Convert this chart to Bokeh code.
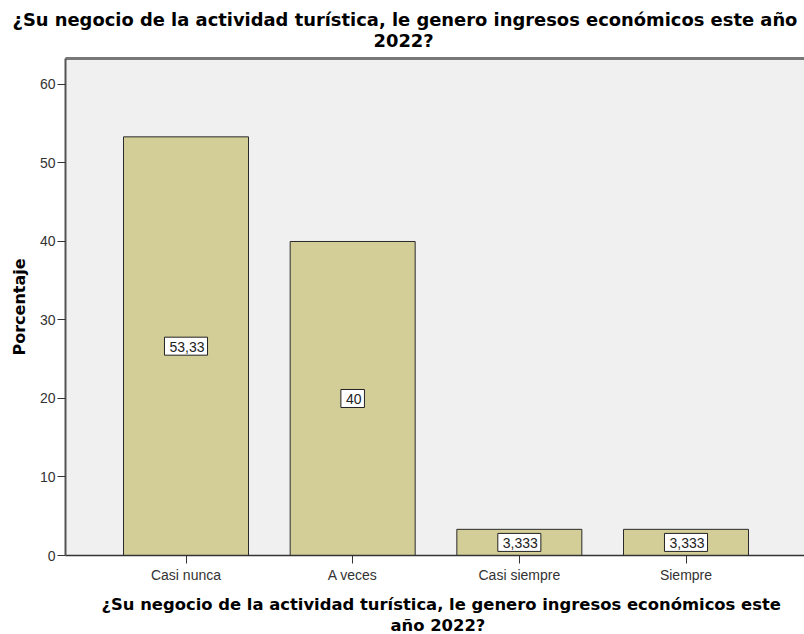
from bokeh.plotting import figure
from bokeh.models import (ColumnDataSource, Label, Range1d, FixedTicker, LinearAxis, Title)
from bokeh.embed import file_html
from bokeh.resources import INLINE

categories = ["Casi nunca", "A veces", "Casi siempre", "Siempre"]
values = [53.33, 40, 3.333, 3.333]
value_labels = ["53,33", "40", "3,333", "3,333"]
y_ticks = [0, 10, 20, 30, 40, 50, 60]
title_lines = ["¿Su negocio de la actividad turística, le genero ingresos económicos este año", "2022?"]
xtitle_lines = ["¿Su negocio de la actividad turística, le genero ingresos económicos este", "año 2022?"]
y_title = "Porcentaje"

xs = list(range(len(categories)))
src = ColumnDataSource(dict(x=xs, top=values))

p = figure(width=804, height=634, output_backend="svg", toolbar_location=None,
           x_range=Range1d(-0.723, 3.711), y_range=Range1d(0, 63.31),
           min_border_left=65, min_border_right=0, min_border_top=58, min_border_bottom=79)
p.title.visible = False
p.background_fill_color = "#F0F0F0"
p.border_fill_color = "white"
p.outline_line_color = None
p.grid.visible = False

p.vbar(x="x", top="top", width=0.75, bottom=0, source=src,
       fill_color="#D3CE97", line_color="#2a2a2a", line_width=1)

for xv, v, lab in zip(xs, values, value_labels):
    p.add_layout(Label(x=xv, y=v / 2, text=lab, text_align="center",
                       text_baseline="middle", text_font="Liberation Sans", text_font_size="14px",
                       text_color="#222222", background_fill_color="white",
                       border_line_color="#222222", border_line_width=1, padding=(5, 3, 5, 3)))

# axes
xa = p.xaxis[0]
xa.ticker = FixedTicker(ticks=xs)
xa.major_label_overrides = {i: c for i, c in zip(xs, categories)}
xa.minor_tick_line_color = None
xa.major_tick_in = 0
xa.major_tick_out = 8
xa.major_tick_line_color = "#333333"
xa.axis_line_color = "#333333"
xa.axis_line_width = 1.5
xa.major_label_text_font = "Liberation Sans"
xa.major_label_text_font_size = "14px"
xa.major_label_text_color = "#333333"
xa.major_label_standoff = 3

ya = p.yaxis[0]
ya.ticker = FixedTicker(ticks=y_ticks)
ya.minor_tick_line_color = None
ya.major_tick_in = 0
ya.major_tick_out = 8
ya.major_tick_line_color = "#333333"
ya.axis_line_color = "#555555"
ya.axis_line_width = 2
ya.major_label_text_font = "Liberation Sans"
ya.major_label_text_font_size = "14px"
ya.major_label_text_color = "#333333"
ya.major_label_standoff = 2
ya.axis_label = y_title
ya.axis_label_text_font = "DejaVu Sans"
ya.axis_label_text_font_style = "bold"
ya.axis_label_text_font_size = "16px"
ya.axis_label_text_color = "black"
ya.axis_label_standoff = 8

top_axis = LinearAxis(ticker=FixedTicker(ticks=[]), axis_line_color="#777777", axis_line_width=3,
                      major_tick_line_color=None, minor_tick_line_color=None,
                      major_label_text_font_size="0px", major_label_standoff=0)
p.add_layout(top_axis, "above")

# chart title (two lines)
p.add_layout(Title(text=title_lines[1], align="left", offset=373 - 65, standoff=16,
                   text_font="DejaVu Sans", text_font_style="bold", text_font_size="17.9px",
                   text_color="black"), "above")
p.add_layout(Title(text=title_lines[0], align="left", offset=12 - 65, standoff=-20,
                   text_font="DejaVu Sans", text_font_style="bold", text_font_size="17.9px",
                   text_color="black"), "above")

# x axis title (two lines)
p.add_layout(Title(text=xtitle_lines[0], align="left", offset=101 - 65, standoff=14,
                   text_font="DejaVu Sans", text_font_style="bold", text_font_size="16.4px",
                   text_color="black"), "below")
p.add_layout(Title(text=xtitle_lines[1], align="left", offset=390 - 65, standoff=-14,
                   text_font="DejaVu Sans", text_font_style="bold", text_font_size="16.4px",
                   text_color="black"), "below")

open("out.html", "w").write(file_html(p, INLINE))
